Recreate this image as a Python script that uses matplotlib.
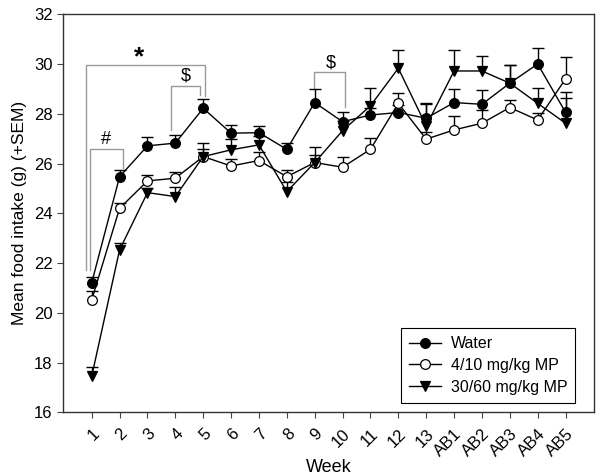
import numpy as np
import matplotlib.pyplot as plt

plt.rcParams['font.family'] = ['Liberation Sans', 'DejaVu Sans']

weeks = ['1', '2', '3', '4', '5', '6', '7', '8', '9', '10', '11', '12', '13',
         'AB1', 'AB2', 'AB3', 'AB4', 'AB5']

water = [21.21, 25.47, 26.71, 26.82, 28.22, 27.22, 27.24, 26.57, 28.45, 27.68,
         27.95, 28.05, 27.82, 28.45, 28.38, 29.23, 30.0, 28.06]
water_sem = [0.21, 0.26, 0.35, 0.33, 0.36, 0.33, 0.27, 0.26, 0.53, 0.4,
             0.3, 0.3, 0.62, 0.53, 0.57, 0.73, 0.66, 0.82]

mp_low = [20.52, 24.2, 25.3, 25.41, 26.28, 25.9, 26.12, 25.47, 26.04, 25.85,
          26.57, 28.42, 26.98, 27.35, 27.62, 28.25, 27.75, 29.4]
mp_low_sem = [0.37, 0.2, 0.24, 0.24, 0.3, 0.27, 0.36, 0.27, 0.3, 0.4,
              0.44, 0.42, 0.3, 0.56, 0.53, 0.3, 0.3, 0.89]

mp_high = [17.45, 22.53, 24.83, 24.67, 26.28, 26.55, 26.75, 24.87, 26.04, 27.32,
           28.32, 29.83, 27.51, 29.72, 29.72, 29.23, 28.42, 27.62]
mp_high_sem = [0.37, 0.27, 0.2, 0.4, 0.53, 0.43, 0.35, 0.4, 0.61, 0.4,
               0.73, 0.73, 0.88, 0.86, 0.61, 0.73, 0.6, 1.0]

# significance brackets: x left, x right, top, left foot, right foot, label, label x, label y
brackets = [
    (-0.21, 4.05, 29.97, 21.7, 28.7, '*', 1.71, 29.8),
    (-0.07, 1.13, 26.57, 21.7, 25.82, '#', 0.51, 26.95),
    (2.83, 3.87, 29.12, 27.35, 28.76, '$', 3.38, 29.52),
    (7.99, 9.09, 29.67, 29.03, 28.29, '$', 8.57, 30.06),
]

x = np.arange(len(weeks))

fig = plt.figure(figsize=(6.03, 4.75), dpi=100)
ax = fig.add_axes([0.1045, 0.132, 0.881, 0.838])

series = [
    (water, water_sem, dict(marker='o', mfc='black', label='Water')),
    (mp_low, mp_low_sem, dict(marker='o', mfc='white', label='4/10 mg/kg MP')),
    (mp_high, mp_high_sem, dict(marker='v', mfc='black', label='30/60 mg/kg MP')),
]

for vals, sem, style in series:
    vals = np.array(vals)
    top = vals + np.array(sem)
    ax.vlines(x, vals, top, color='black', lw=1, zorder=2)
    ax.plot(x, top, ls='none', marker='_', ms=8, mew=1, color='black', zorder=2)
    ax.plot(x, vals, color='black', lw=1, ms=7, mec='black', mew=0.9,
            zorder=3, **style)

for x0, x1, ytop, yl, yr, lab, lx, ly in brackets:
    ax.plot([x0, x0, x1, x1], [yl, ytop, ytop, yr], color='#999999', lw=1, zorder=1)
    if lab == '*':
        ax.text(lx, ly, lab, fontsize=19, fontweight='bold', ha='center', va='bottom')
    else:
        ax.text(lx, ly, lab, fontsize=13, ha='center', va='center')

ax.set_xlim(-1.03, 18.03)
ax.set_ylim(16, 32)
ax.set_yticks(np.arange(16, 33, 2))
ax.set_xticks(x)
ax.set_xticklabels(weeks, rotation=45, ha='right', rotation_mode='anchor')
ax.tick_params(direction='out', length=4, labelsize=12, color='#444444')
ax.tick_params(axis='x', pad=6)
for sp in ax.spines.values():
    sp.set_color('#333333')
    sp.set_linewidth(1)

ax.set_xlabel('Week', fontsize=13, labelpad=0)
ax.set_ylabel('Mean food intake (g) (+SEM)', fontsize=12.5, labelpad=5)

leg = ax.legend(loc='lower right', bbox_to_anchor=(0.979, 0.004), fontsize=11.5,
                fancybox=False, edgecolor='black', framealpha=1, handlelength=2.0,
                borderpad=0.5, labelspacing=0.42, handletextpad=0.6)
leg.get_frame().set_linewidth(0.8)

fig.savefig('out.png', dpi=100)
